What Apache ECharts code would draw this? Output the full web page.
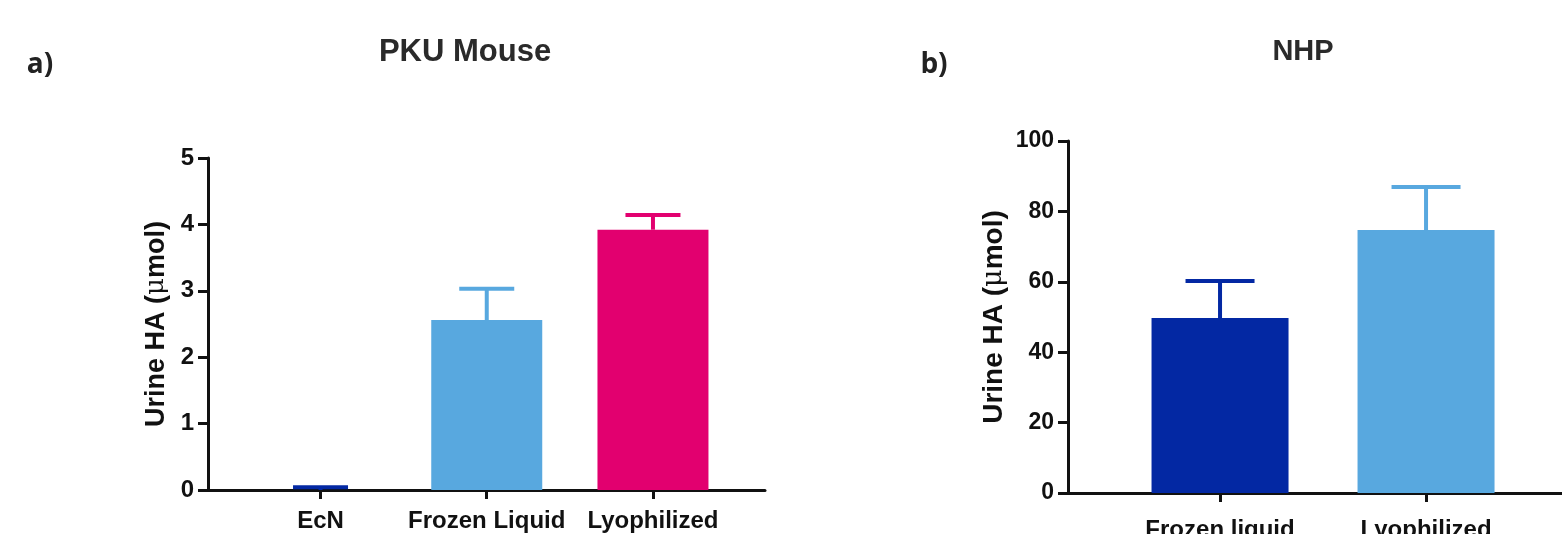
<!DOCTYPE html>
<html>
<head>
<meta charset="utf-8">
<script src="https://cdn.jsdelivr.net/npm/echarts@6/dist/echarts.min.js"></script>
<style>
html,body{margin:0;padding:0;background:#fff;}
#c{width:1562px;height:534px;}
</style>
</head>
<body>
<div id="c"></div>
<script>
// ---- Data ----
const catsA = ['EcN', 'Frozen Liquid', 'Lyophilized'];
const meanA = [0, 2.56, 3.92];
const errA = [0.04, 0.47, 0.22];
const colorA = ['#0328A3', '#58A8DF', '#E2006F'];
const ticksA = [0, 1, 2, 3, 4, 5];

const catsB = ['Frozen liquid', 'Lyophilized'];
const meanB = [49.7, 74.7];
const errB = [10.5, 12.2];
const colorB = ['#0328A3', '#58A8DF'];
const ticksB = [0, 20, 40, 60, 80, 100];

const chart = echarts.init(document.getElementById('c'));
const FONT = 'Liberation Sans, Arial, sans-serif';

function errSeries(xi, yi, means, errs, colors, capW) {
  return {
    type: 'custom',
    xAxisIndex: xi, yAxisIndex: yi,
    z: 5,
    data: means.map((m, i) => [i, m, errs[i]]),
    renderItem: function (params, api) {
      const x = api.value(0), m = api.value(1), e = api.value(2);
      const p0 = api.coord([x, m]);
      const p1 = api.coord([x, m + e]);
      const col = colors[params.dataIndex];
      const st = { stroke: col, lineWidth: 4 };
      return {
        type: 'group',
        children: [
          { type: 'line', shape: { x1: p0[0], y1: p0[1], x2: p1[0], y2: p1[1] }, style: st },
          { type: 'line', shape: { x1: p1[0] - capW / 2, y1: p1[1], x2: p1[0] + capW / 2, y2: p1[1] }, style: st }
        ]
      };
    }
  };
}

function barSeries(xi, yi, means, colors, w) {
  return {
    type: 'bar',
    xAxisIndex: xi, yAxisIndex: yi,
    barWidth: w,
    z: 3,
    data: means.map((m, i) => ({ value: [i, m], itemStyle: { color: colors[i] } }))
  };
}

function nameRich(sz) {
  return {
    b: { fontFamily: FONT, fontWeight: 'bold', fontSize: sz, color: '#111' },
    m: { fontFamily: 'DejaVu Serif, serif', fontWeight: 'normal', fontSize: sz - 1, color: '#111' }
  };
}

function xAxis(gi, cats, min, max, fs, margin) {
  return {
    type: 'value', gridIndex: gi, min: min, max: max,
    axisLine: { show: true, onZero: false, lineStyle: { color: '#111', width: 3 } },
    splitLine: { show: false },
    axisTick: { show: true, customValues: cats.map((c, i) => i), length: 9, lineStyle: { color: '#111', width: 3 } },
    axisLabel: {
      show: true, customValues: cats.map((c, i) => i), margin: margin,
      formatter: v => cats[Math.round(v)],
      fontFamily: FONT, fontWeight: 'bold', fontSize: fs, color: '#111'
    }
  };
}

function yAxis(gi, ticks, gap, fs, nfs) {
  return {
    type: 'value', gridIndex: gi,
    min: ticks[0], max: ticks[ticks.length - 1], interval: ticks[1] - ticks[0],
    axisLine: { show: true, onZero: false, lineStyle: { color: '#111', width: 3 } },
    splitLine: { show: false },
    axisTick: { show: true, length: 10, lineStyle: { color: '#111', width: 3 } },
    axisLabel: { fontFamily: FONT, fontWeight: 'bold', fontSize: fs, color: '#111', margin: 14 },
    name: '{b|Urine HA (}{m|\u03bc}{b|mol)}',
    nameLocation: 'middle', nameGap: gap, nameRotate: 90,
    nameTextStyle: { rich: nameRich(nfs) }
  };
}

chart.setOption({
  animation: false,
  backgroundColor: '#fff',
  grid: [
    { left: 208, right: 797, top: 158, bottom: 44, containLabel: false, outerBoundsMode: 'none' },
    { left: 1068, right: 0, top: 141, bottom: 41, containLabel: false, outerBoundsMode: 'none' }
  ],
  xAxis: [xAxis(0, catsA, -0.677, 2.674, 24, 19), xAxis(1, catsB, -0.738, 1.66, 24, 25)],
  yAxis: [yAxis(0, ticksA, 38, 24, 27), yAxis(1, ticksB, 60, 23, 28)],
  series: [
    barSeries(0, 0, meanA, colorA, 111),
    errSeries(0, 0, meanA, errA, colorA, 55),
    barSeries(1, 1, meanB, colorB, 137),
    errSeries(1, 1, meanB, errB, colorB, 69)
  ],
  graphic: [
    { type: 'text', x: 40, y: 65, style: { text: 'a)', font: 'bold 28px "Open Sans", sans-serif', fill: '#222', textAlign: 'center', textVerticalAlign: 'middle' } },
    { type: 'text', x: 934, y: 65, style: { text: 'b)', font: 'bold 28px "Open Sans", sans-serif', fill: '#222', textAlign: 'center', textVerticalAlign: 'middle' } },
    { type: 'text', x: 465, y: 52, style: { text: 'PKU Mouse', font: 'bold 31px "Liberation Sans", Arial, sans-serif', fill: '#2a2a2a', textAlign: 'center', textVerticalAlign: 'middle' } },
    { type: 'text', x: 1303, y: 52, style: { text: 'NHP', font: 'bold 29px "Liberation Sans", Arial, sans-serif', fill: '#2a2a2a', textAlign: 'center', textVerticalAlign: 'middle' } }
  ]
});
</script>
</body>
</html>
